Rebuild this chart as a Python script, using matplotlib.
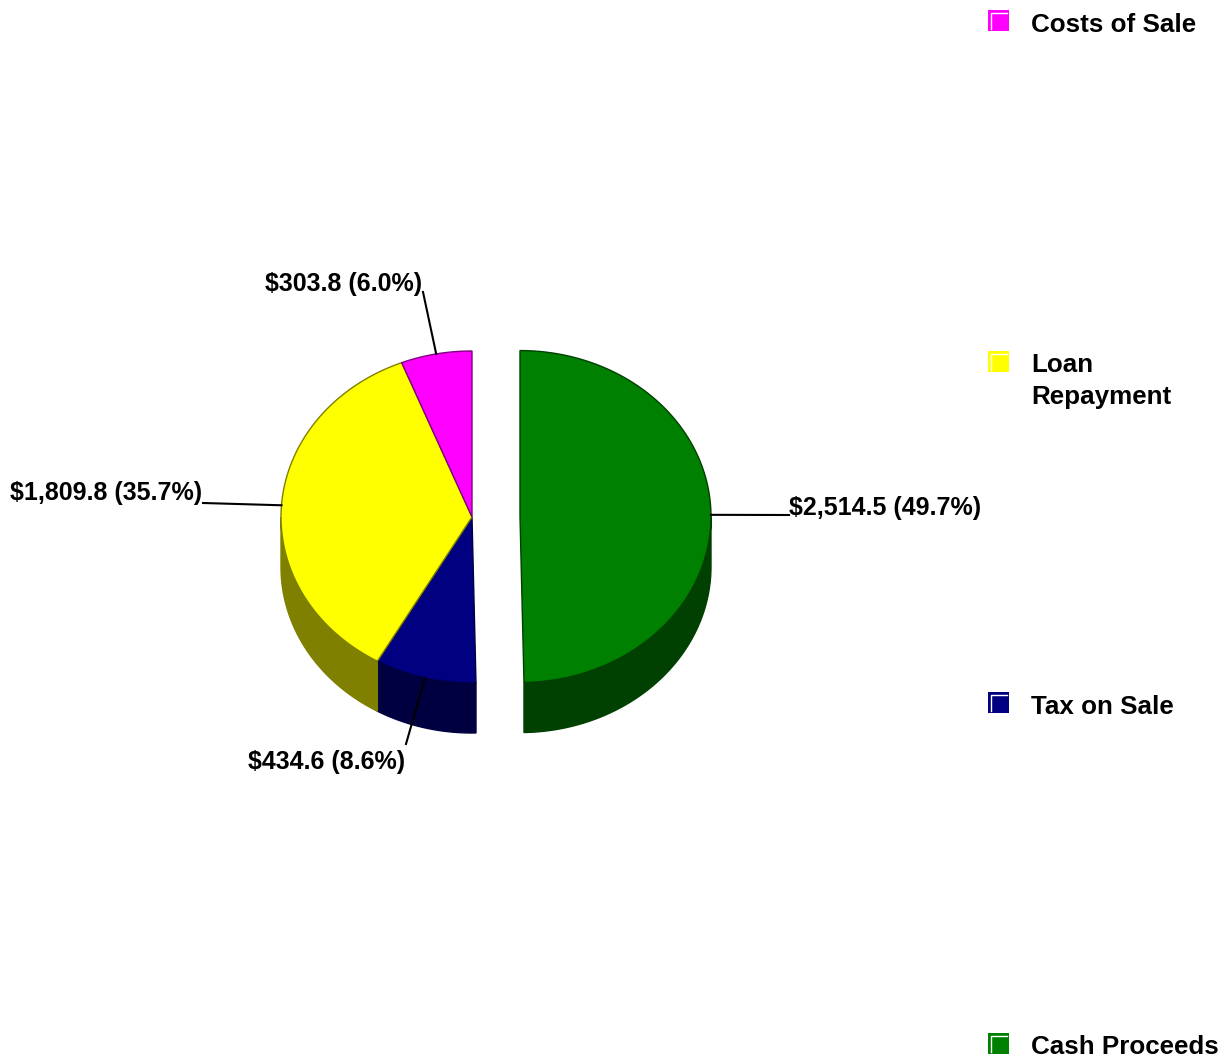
import numpy as np
import matplotlib
matplotlib.use("Agg")
import matplotlib.pyplot as plt
from matplotlib.patches import Polygon, Rectangle

# Sale proceeds breakdown (values in $)
categories = ["Costs of Sale", "Loan Repayment", "Tax on Sale", "Cash Proceeds"]
legend_names = ["Costs of Sale", "Loan\nRepayment", "Tax on Sale", "Cash Proceeds"]
values = [303.8, 1809.8, 434.6, 2514.5]
top_colors = ["#ff00ff", "#ffff00", "#000080", "#008000"]
side_colors = ["#800080", "#808000", "#000040", "#004000"]
edge_colors = ["#800080", "#808000", "#000040", "#004000"]
explode = [0, 0, 0, 48]

FONT = ["Liberation Sans", "DejaVu Sans"]

W, H = 1227, 1063
fig = plt.figure(figsize=(W / 100, H / 100), dpi=100)
ax = fig.add_axes([0, 0, 1, 1])
ax.set_xlim(0, W)
ax.set_ylim(H, 0)
ax.axis("off")

# elliptical pie seen from above, with a thick rim
cx, cy = 472, 517
rx, ry = 191, 166
depth = 50


def pt(a, ox=0.0, oy=0.0, dz=0.0):
    r = np.radians(a)
    return cx + ox + rx * np.cos(r), cy + oy - ry * np.sin(r) + dz


# slices go clockwise starting at 12 o'clock, largest one (cash) first
order = [3, 2, 1, 0]
total = sum(values)
angles = {}
start = 90.0
for i in order:
    sweep = values[i] / total * 360.0
    angles[i] = (start - sweep, start)
    start -= sweep

# rim (side walls) only where the lower half of the ellipse faces us
for i in order:
    a1, a2 = angles[i]
    mid = np.radians((a1 + a2) / 2)
    ox, oy = explode[i] * np.cos(mid), -explode[i] * np.sin(mid) * ry / rx
    lo, hi = max(a1, -180.0), min(a2, 0.0)
    if hi <= lo:
        # wrap-around case for slices covering 180..360
        lo, hi = max(a1 + 360, 180.0), min(a2 + 360, 360.0)
        if hi <= lo:
            continue
    t = np.linspace(lo, hi, 80)
    top = [pt(a, ox, oy) for a in t]
    bot = [pt(a, ox, oy, depth) for a in t[::-1]]
    ax.add_patch(Polygon(top + bot, closed=True, facecolor=side_colors[i],
                         edgecolor=edge_colors[i], lw=1, zorder=2))

# top faces
for i in order:
    a1, a2 = angles[i]
    mid = np.radians((a1 + a2) / 2)
    ox, oy = explode[i] * np.cos(mid), -explode[i] * np.sin(mid) * ry / rx
    t = np.linspace(a1, a2, 120)
    verts = [(cx + ox, cy + oy)] + [pt(a, ox, oy) for a in t]
    ax.add_patch(Polygon(verts, closed=True, facecolor=top_colors[i],
                         edgecolor=edge_colors[i], lw=1, zorder=3))

# value labels with leader lines
label_pos = {0: (265, 284), 1: (10, 493), 2: (248, 762), 3: (789, 508)}
line_end = {0: (423, 292), 1: (203, 503), 2: (406, 744), 3: (789, 515)}
for i in order:
    a1, a2 = angles[i]
    m = (a1 + a2) / 2
    mr = np.radians(m)
    ox, oy = explode[i] * np.cos(mr), -explode[i] * np.sin(mr) * ry / rx
    x0, y0 = pt(m, ox, oy)
    x1, y1 = line_end[i]
    ax.plot([x0, x1], [y0, y1], color="black", lw=1.5, zorder=4)
    pct = values[i] / total * 100
    tx, ty = label_pos[i]
    ax.text(tx, ty, f"${values[i]:,.1f} ({pct:.1f}%)", family=FONT,
            fontweight="bold", fontsize=18, ha="left", va="center", zorder=5)

# legend down the right side
leg_y = np.linspace(20, 1043, len(categories))
for name, col, yc in zip(legend_names, top_colors, leg_y):
    x0, s = 988, 21
    y0 = yc - s / 2
    ax.add_patch(Rectangle((x0, y0), s, s, facecolor=col, edgecolor="none", zorder=3))
    ax.plot([x0 + 3, x0 + 3, x0 + s - 2], [y0 + s - 2, y0 + 3, y0 + 3],
            color="white", lw=1, zorder=4)
    ax.text(1031, y0 + 3, name, family=FONT, fontweight="bold", fontsize=18.7,
            ha="left", va="top", linespacing=1.4, zorder=5)

fig.savefig("out.png", dpi=100, facecolor="white")
